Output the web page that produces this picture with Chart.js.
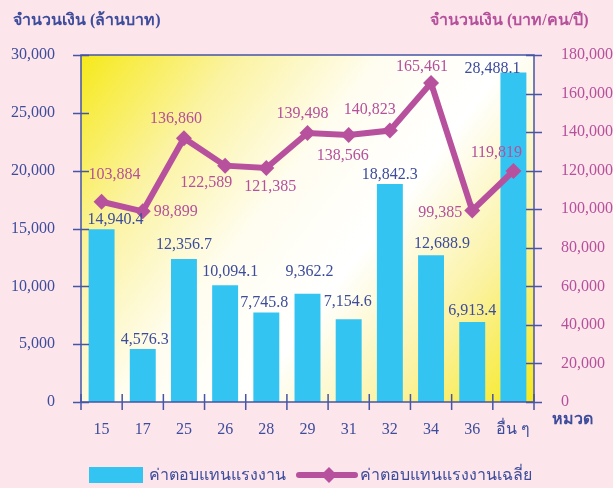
<!DOCTYPE html>
<html>
<head>
<meta charset="utf-8">
<script src="https://cdn.jsdelivr.net/npm/chart.js@4/dist/chart.umd.min.js"></script>
<style>
  html, body { margin: 0; padding: 0; background: #fde5ec; }
  #wrap { width: 613px; height: 488px; }
</style>
</head>
<body>
<div id="wrap"><canvas id="c" width="613" height="488"></canvas></div>
<script>
// ---- data ----
const categories = ['15', '17', '25', '26', '28', '29', '31', '32', '34', '36', 'อื่น ๆ'];
const wageTotal = [14940.4, 4576.3, 12356.7, 10094.1, 7745.8, 9362.2, 7154.6, 18842.3, 12688.9, 6913.4, 28488.1];
const wageAverage = [103884, 98899, 136860, 122589, 121385, 139498, 138566, 140823, 165461, 99385, 119819];
const leftAxisMax = 30000, leftAxisStep = 5000;
const rightAxisMax = 180000, rightAxisStep = 20000;
const seriesNames = ['ค่าตอบแทนแรงงาน', 'ค่าตอบแทนแรงงานเฉลี่ย'];
const leftTitle = 'จำนวนเงิน (ล้านบาท)';
const rightTitle = 'จำนวนเงิน (บาท/คน/ปี)';
const xTitle = 'หมวด';

// ---- label placement (style only) ----
const barLabelOffsets = [[14,-9],[2,-9],[0,-14],[5,-13],[-2,-10],[2,-22],[-1,-17],[0,-9],[11,-11],[0,-11],[-21,-4]];
const lineLabelOffsets = [[13,-27],[33,0],[-8,-19],[-19,17],[4,19],[-5,-19],[-6,21],[-20,-21],[-9,-16],[-32,2],[-17,-18]];

const BLUE = '#3d4c9b';
const MAGENTA = '#b5509b';
const BAR = '#33c4f2';
const LINE = '#b8519d';
const SERIF = '"Liberation Serif", "DejaVu Serif", serif';

const fmt = (v, d) => v.toLocaleString('en-US', {minimumFractionDigits: d, maximumFractionDigits: d});

const decor = {
  id: 'decor',
  beforeDraw(chart) {
    const {ctx, chartArea: a} = chart;
    ctx.save();
    ctx.fillStyle = '#fde5ec';
    ctx.fillRect(0, 0, chart.width, chart.height);
    const g = ctx.createLinearGradient(a.left, a.top, a.right, a.bottom);
    g.addColorStop(0, '#f6e91a');
    g.addColorStop(0.22, '#fbf3a2');
    g.addColorStop(0.42, '#fffdf0');
    g.addColorStop(0.6, '#ffffff');
    g.addColorStop(0.8, '#fbf2a0');
    g.addColorStop(1, '#f6e81a');
    ctx.fillStyle = g;
    ctx.fillRect(a.left, a.top, a.right - a.left, a.bottom - a.top);
    ctx.restore();
  },
  afterDatasetsDraw(chart) {
    const {ctx, chartArea: a, scales} = chart;
    ctx.save();
    ctx.strokeStyle = '#4655a5';
    ctx.lineWidth = 1.5;
    ctx.strokeRect(a.left, a.top, a.right - a.left, a.bottom - a.top);
    ctx.beginPath();
    scales.y.ticks.forEach(t => {
      const y = Math.round(scales.y.getPixelForValue(t.value)) + 0.5;
      ctx.moveTo(a.left - 8, y); ctx.lineTo(a.left + 8, y);
    });
    scales.y1.ticks.forEach(t => {
      const y = Math.round(scales.y1.getPixelForValue(t.value)) + 0.5;
      ctx.moveTo(a.right - 8, y); ctx.lineTo(a.right + 8, y);
    });
    const n = categories.length;
    for (let i = 0; i <= n; i++) {
      const x = a.left + (a.right - a.left) * i / n;
      ctx.moveTo(x, a.bottom - 8); ctx.lineTo(x, a.bottom + 8);
    }
    ctx.stroke();
    ctx.restore();
  },
  afterDraw(chart) {
    const {ctx} = chart;
    ctx.save();
    ctx.textAlign = 'center';
    ctx.textBaseline = 'middle';
    ctx.font = '16px ' + SERIF;
    const barMeta = chart.getDatasetMeta(0);
    ctx.fillStyle = BLUE;
    barMeta.data.forEach((el, i) => {
      const o = barLabelOffsets[i];
      ctx.fillText(fmt(wageTotal[i], 1), el.x + o[0], el.y + o[1]);
    });
    const lineMeta = chart.getDatasetMeta(1);
    ctx.fillStyle = MAGENTA;
    lineMeta.data.forEach((el, i) => {
      const o = lineLabelOffsets[i];
      ctx.fillText(fmt(wageAverage[i], 0), el.x + o[0], el.y + o[1]);
    });
    ctx.textAlign = 'left';
    ctx.font = 'bold 16px ' + SERIF;
    ctx.fillStyle = BLUE;
    ctx.fillText(leftTitle, 13, 21);
    ctx.fillStyle = MAGENTA;
    ctx.fillText(rightTitle, 430, 21);
    ctx.fillStyle = BLUE;
    ctx.fillText(xTitle, 552, 420);
    const ds = chart.data.datasets;
    ctx.fillStyle = ds[0].backgroundColor;
    ctx.fillRect(89, 467, 54, 16);
    ctx.font = '16px ' + SERIF;
    ctx.fillStyle = BLUE;
    ctx.fillText(ds[0].label, 149, 476);
    ctx.strokeStyle = ds[1].borderColor;
    ctx.lineWidth = 6;
    ctx.lineCap = 'round';
    ctx.beginPath(); ctx.moveTo(299, 475); ctx.lineTo(355, 475); ctx.stroke();
    ctx.fillStyle = ds[1].borderColor;
    ctx.beginPath();
    ctx.moveTo(329, 467); ctx.lineTo(337, 475); ctx.lineTo(329, 483); ctx.lineTo(321, 475); ctx.closePath();
    ctx.fill();
    ctx.fillStyle = BLUE;
    ctx.fillText(ds[1].label, 360, 476);
    ctx.restore();
  }
};

new Chart(document.getElementById('c'), {
  type: 'bar',
  data: {
    labels: categories,
    datasets: [
      {
        type: 'bar', label: seriesNames[0], data: wageTotal, yAxisID: 'y',
        backgroundColor: BAR, borderWidth: 0,
        categoryPercentage: 0.7, barPercentage: 0.9, order: 2
      },
      {
        type: 'line', label: seriesNames[1], data: wageAverage, yAxisID: 'y1',
        borderColor: LINE, backgroundColor: LINE, borderWidth: 6, tension: 0,
        pointStyle: 'rectRot', pointRadius: 8, pointBackgroundColor: LINE,
        pointBorderWidth: 0, order: 1
      }
    ]
  },
  options: {
    responsive: false,
    animation: false,
    devicePixelRatio: 1,
    layout: { padding: { top: 55, left: 0, right: 0, bottom: 0 } },
    plugins: { legend: { display: false }, tooltip: { enabled: false } },
    scales: {
      x: {
        grid: { display: false }, border: { display: false },
        ticks: { color: BLUE, font: { family: SERIF, size: 16 }, padding: 10, maxRotation: 0, autoSkip: false },
        afterFit(s) { s.height = 86; }
      },
      y: {
        position: 'left', min: 0, max: leftAxisMax,
        grid: { display: false }, border: { display: false },
        ticks: { stepSize: leftAxisStep, color: BLUE, font: { family: SERIF, size: 16 }, padding: 18,
                 callback: v => fmt(v, 0) },
        afterFit(s) { s.width = 81; }
      },
      y1: {
        position: 'right', min: 0, max: rightAxisMax,
        grid: { display: false }, border: { display: false },
        ticks: { stepSize: rightAxisStep, color: MAGENTA, font: { family: SERIF, size: 16 }, padding: 19,
                 callback: v => fmt(v, 0) },
        afterFit(s) { s.width = 79; }
      }
    }
  },
  plugins: [decor]
});
</script>
</body>
</html>
